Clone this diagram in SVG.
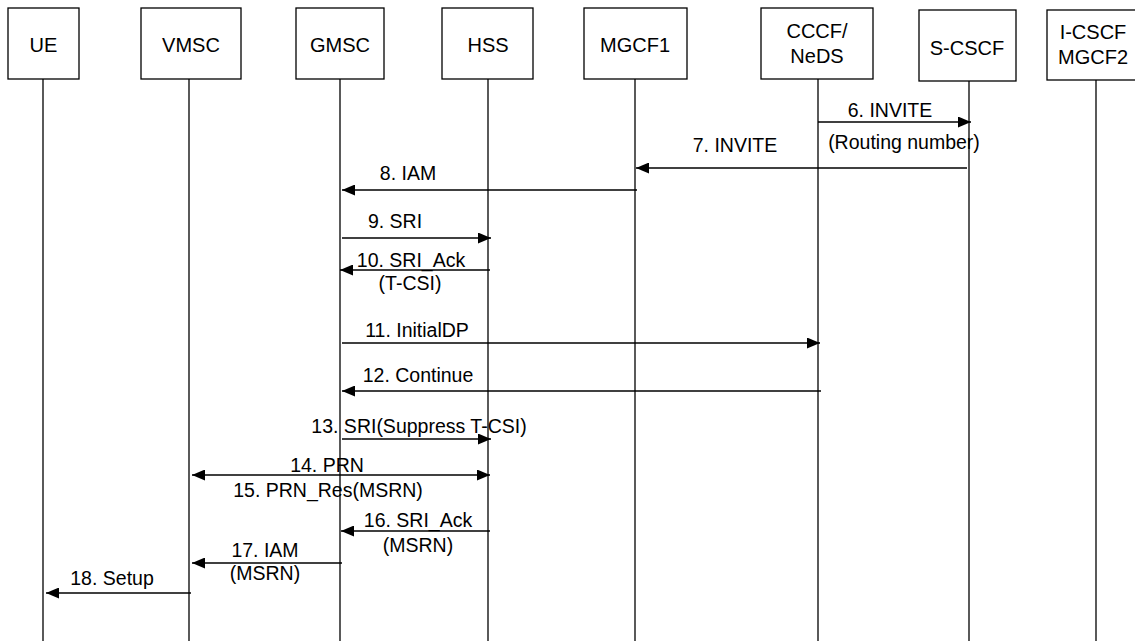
<svg xmlns="http://www.w3.org/2000/svg" width="1135" height="641" viewBox="0 0 1135 641">
<style>
.box{fill:#fff;stroke:#000;stroke-width:1.3}
.life{stroke:#000;stroke-width:1.3}
.msg{stroke:#000;stroke-width:1.3;fill:none}
.hd{font-family:"Liberation Sans",Arial,sans-serif;font-size:20px;text-anchor:middle;fill:#000}
.lb{font-family:"Liberation Sans",Arial,sans-serif;font-size:19.5px;text-anchor:middle;fill:#000}
</style>
<defs>
<marker id="ah" viewBox="0 0 13 11" refX="13" refY="5.5" markerWidth="13" markerHeight="11" markerUnits="userSpaceOnUse" orient="auto-start-reverse">
<path d="M0,0 L13,5.5 L0,11 Z" fill="#000"/>
</marker>
</defs>
<rect width="1135" height="641" fill="#fff"/>
<g id="UE"><rect class="box" x="8" y="8" width="71" height="71"/><text class="hd" x="43.5" y="52">UE</text><line class="life" x1="43" y1="79" x2="43" y2="641"/></g>
<g id="VMSC"><rect class="box" x="141" y="8" width="100" height="71"/><text class="hd" x="191" y="52">VMSC</text><line class="life" x1="189" y1="79" x2="189" y2="641"/></g>
<g id="GMSC"><rect class="box" x="296" y="8" width="88" height="71"/><text class="hd" x="340" y="52">GMSC</text><line class="life" x1="340" y1="79" x2="340" y2="641"/></g>
<g id="HSS"><rect class="box" x="442" y="8" width="91" height="71"/><text class="hd" x="488" y="52">HSS</text><line class="life" x1="488" y1="79" x2="488" y2="641"/></g>
<g id="MGCF1"><rect class="box" x="584" y="8" width="103" height="71"/><text class="hd" x="635" y="52">MGCF1</text><line class="life" x1="635" y1="79" x2="635" y2="641"/></g>
<g id="CCCF"><rect class="box" x="761" y="8" width="112" height="71"/><text class="hd" x="817" y="38">CCCF/</text><text class="hd" x="817" y="63">NeDS</text><line class="life" x1="818" y1="79" x2="818" y2="641"/></g>
<g id="SCSCF"><rect class="box" x="919" y="10" width="97" height="71"/><text class="hd" x="967" y="55">S-CSCF</text><line class="life" x1="969" y1="81" x2="969" y2="641"/></g>
<g id="ICSCF"><rect class="box" x="1047" y="10" width="100" height="70"/><text class="hd" x="1093" y="39">I-CSCF</text><text class="hd" x="1093" y="64">MGCF2</text><line class="life" x1="1096" y1="80" x2="1096" y2="641"/></g>
<g id="connectors">
<line class="msg" x1="818" y1="122" x2="971" y2="122" marker-end="url(#ah)"/>
<line class="msg" x1="967" y1="168" x2="636" y2="168" marker-end="url(#ah)"/>
<line class="msg" x1="637" y1="190" x2="342" y2="190" marker-end="url(#ah)"/>
<line class="msg" x1="342" y1="238" x2="491" y2="238" marker-end="url(#ah)"/>
<line class="msg" x1="490" y1="270" x2="340" y2="270" marker-end="url(#ah)"/>
<line class="msg" x1="342" y1="343" x2="820" y2="343" marker-end="url(#ah)"/>
<line class="msg" x1="821" y1="391" x2="342" y2="391" marker-end="url(#ah)"/>
<line class="msg" x1="342" y1="439" x2="491" y2="439" marker-end="url(#ah)"/>
<line class="msg" x1="192" y1="475" x2="490" y2="475" marker-start="url(#ah)" marker-end="url(#ah)"/>
<line class="msg" x1="490" y1="531" x2="341" y2="531" marker-end="url(#ah)"/>
<line class="msg" x1="342" y1="563" x2="192" y2="563" marker-end="url(#ah)"/>
<line class="msg" x1="191" y1="593" x2="46" y2="593" marker-end="url(#ah)"/>
</g>
<g id="labels">
<text class="lb" x="890" y="117">6. INVITE</text>
<text class="lb" x="904" y="149">(Routing number)</text>
<text class="lb" x="735" y="152">7. INVITE</text>
<text class="lb" x="408" y="180">8. IAM</text>
<text class="lb" x="395" y="228">9. SRI</text>
<text class="lb" x="411" y="267">10. SRI_Ack</text>
<text class="lb" x="410" y="290">(T-CSI)</text>
<text class="lb" x="417" y="337">11. InitialDP</text>
<text class="lb" x="418" y="382">12. Continue</text>
<text class="lb" x="419" y="433">13. SRI(Suppress T-CSI)</text>
<text class="lb" x="327" y="472">14. PRN</text>
<text class="lb" x="328" y="497">15. PRN_Res(MSRN)</text>
<text class="lb" x="418" y="527">16. SRI_Ack</text>
<text class="lb" x="418" y="552">(MSRN)</text>
<text class="lb" x="265" y="557">17. IAM</text>
<text class="lb" x="265" y="580">(MSRN)</text>
<text class="lb" x="112" y="585">18. Setup</text>
</g>
</svg>
